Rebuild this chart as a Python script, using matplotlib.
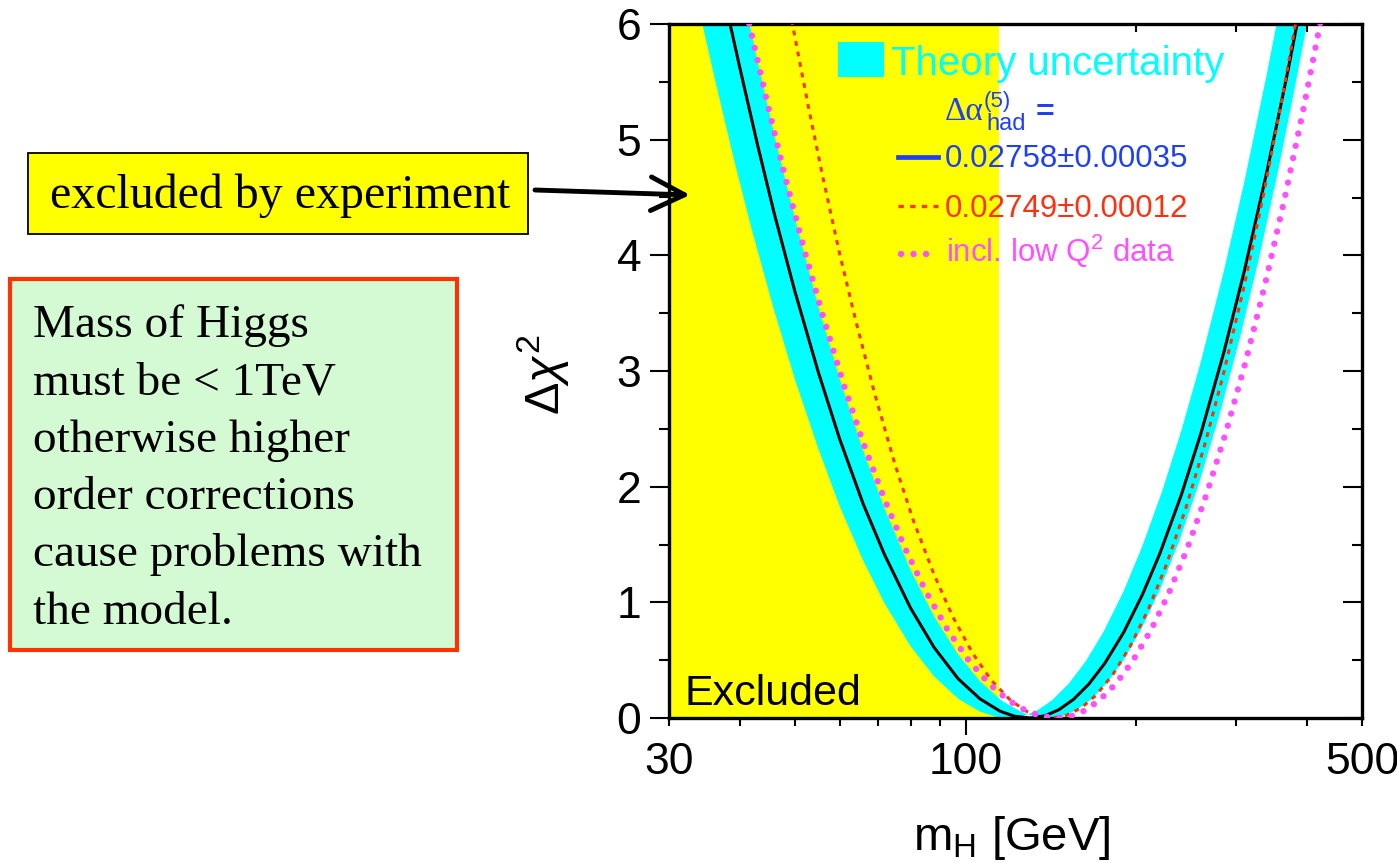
import numpy as np
import matplotlib
matplotlib.use('Agg')
import matplotlib.pyplot as plt
from matplotlib.patches import Rectangle, FancyArrowPatch
from matplotlib.lines import Line2D

plt.rcParams['font.family'] = ['Liberation Sans', 'DejaVu Sans']
plt.rcParams['mathtext.fontset'] = 'custom'
plt.rcParams['mathtext.rm'] = 'Liberation Sans'
plt.rcParams['mathtext.it'] = 'Liberation Sans:italic'

# --- data: m_H [GeV] vs delta chi^2 ---
excluded_limit = 114.4

# central fit (black line)
fit_mh = np.array([37, 38, 40, 43, 46, 50, 55, 60, 66, 72, 80, 88, 97, 106, 115, 122, 130,
                   138, 146, 155, 165, 176, 190, 205, 220, 240, 260, 285, 310, 340, 370, 390])
fit_dchi2 = np.array([6.38, 6.11, 5.62, 4.95, 4.36, 3.69, 2.99, 2.41, 1.85, 1.41, 0.95, 0.61, 0.34, 0.166, 0.059, 0.015, 0.0,
                      0.019, 0.071, 0.161, 0.294, 0.473, 0.74, 1.066, 1.42, 1.926, 2.461, 3.152, 3.862, 4.727, 5.592, 6.167])

# theory uncertainty band, the two edge curves
band_a_mh = np.array([34, 36, 39, 42, 46, 50, 55, 60, 66, 72, 80, 88, 97, 106, 113, 119,
                      126, 134, 142, 152, 163, 175, 190, 205, 222, 240, 260, 285, 310, 340, 360])
band_a_dchi2 = np.array([6.10, 5.56, 4.84, 4.22, 3.52, 2.93, 2.33, 1.83, 1.36, 0.99, 0.62, 0.36, 0.167, 0.055, 0.012, 0.0,
                         0.0145, 0.0675, 0.153, 0.296, 0.493, 0.743, 1.097, 1.487, 1.957, 2.48, 3.083, 3.852, 4.632, 5.575, 6.2])
band_b_mh = np.array([40, 43, 46, 50, 55, 60, 66, 72, 80, 88, 97, 106, 116, 126, 133, 140,
                      148, 157, 167, 178, 190, 205, 220, 238, 258, 280, 305, 330, 355, 380, 400, 410])
band_b_dchi2 = np.array([6.39, 5.67, 5.04, 4.32, 3.56, 2.93, 2.31, 1.81, 1.28, 0.88, 0.55, 0.32, 0.147, 0.047, 0.012, 0.0,
                         0.0155, 0.069, 0.166, 0.309, 0.502, 0.787, 1.106, 1.527, 2.029, 2.61, 3.297, 4.0, 4.712, 5.43, 6.0, 6.29])

# delta alpha_had = 0.02749 (red dashed)
alt_mh = np.array([48, 50, 53, 56, 60, 64, 69, 75, 81, 88, 95, 103, 111, 120, 128, 135, 142,
                   150, 160, 170, 182, 195, 210, 226, 245, 265, 285, 310, 335, 360, 385])
alt_dchi2 = np.array([6.36, 5.89, 5.25, 4.68, 4.01, 3.44, 2.82, 2.20, 1.70, 1.24, 0.873, 0.557, 0.327, 0.153, 0.058, 0.014, 0.0,
                      0.019, 0.088, 0.199, 0.379, 0.618, 0.94, 1.326, 1.826, 2.389, 2.978, 3.739, 4.52, 5.31, 6.1])

# incl. low Q^2 data (magenta dotted)
lowq_mh = np.array([40, 42, 45, 48, 52, 56, 61, 66, 72, 78, 85, 93, 101, 110, 119, 128, 136, 145,
                    153, 162, 172, 184, 197, 212, 228, 246, 266, 288, 312, 338, 365, 395, 420, 430])
lowq_dchi2 = np.array([6.37, 5.90, 5.26, 4.69, 4.04, 3.48, 2.88, 2.38, 1.886, 1.48, 1.099, 0.761, 0.506, 0.296, 0.152, 0.061, 0.017, 0.0,
                       0.014, 0.063, 0.151, 0.295, 0.491, 0.755, 1.073, 1.466, 1.934, 2.475, 3.086, 3.767, 4.485, 5.286, 5.953, 6.22])

x_minor = [30, 40, 50, 60, 70, 80, 90, 200, 300, 400, 500]
x_minor_labels = ['30', '', '', '', '', '', '', '', '', '', '500']

note_lines = ['Mass of Higgs', 'must be < 1TeV', 'otherwise higher',
              'order corrections', 'cause problems with', 'the model.']

# --- figure, laid out in pixels of the 1397x863 picture ---
W, H = 1397, 863
fig = plt.figure(figsize=(W / 100, H / 100), dpi=100)


def fx(x):
    return x / W


def fy(y):
    return 1 - y / H


magenta = '#ff50ff'
blue = '#1f3ff5'

ax = fig.add_axes([fx(669), fy(718), fx(1362) - fx(669), fy(24) - fy(718)])
ax.set_xscale('log')

ax.axvspan(30, excluded_limit, color='#ffff00', lw=0, zorder=0)
ax.fill(np.concatenate([band_a_mh, band_b_mh[::-1]]),
        np.concatenate([band_a_dchi2, band_b_dchi2[::-1]]),
        color='#00ffff', lw=0, zorder=1)
ax.plot(fit_mh, fit_dchi2, color='black', lw=2.2, zorder=2)
ax.plot(alt_mh, alt_dchi2, color='#ff3300', lw=2.2, ls=(0, (1.6, 1.9)), zorder=3)
ax.plot(lowq_mh, lowq_dchi2, color=magenta, lw=4.6, ls=(0, (0.01, 1.95)),
        dash_capstyle='round', zorder=4)

ax.set_xlim(30, 500)
ax.set_ylim(0, 6)

# right and top inward ticks
ax_r = ax.twinx()
ax_r.set_ylim(0, 6)
ax_r.set_yticks(range(7))
ax_r.set_yticks(np.arange(0.5, 6, 0.5), minor=True)
ax_r.tick_params(axis='y', which='major', direction='in', length=14, width=1.5, labelright=False)
ax_r.tick_params(axis='y', which='minor', direction='in', length=7, width=1.5)
ax_t = ax.twiny()
ax_t.set_xscale('log')
ax_t.set_xlim(30, 500)
ax_t.set_xticks([200, 300, 400])
ax_t.set_xticks([], minor=True)
ax_t.tick_params(axis='x', which='major', direction='in', length=6, width=1.5, labeltop=False)
for a in (ax_r, ax_t):
    for s in a.spines.values():
        s.set_visible(False)

ax.set_xticks([100], labels=['100'])
ax.set_xticks(x_minor, labels=x_minor_labels, minor=True)
ax.tick_params(axis='x', which='major', direction='out', length=12, width=1.5, pad=5, labelsize=32)
ax.tick_params(axis='x', which='minor', direction='out', length=5.4, width=1.5, pad=12, labelsize=32)
ax.set_yticks(range(7))
ax.set_yticks(np.arange(0.5, 6, 0.5), minor=True)
ax.tick_params(axis='y', which='major', direction='out', length=14, width=1.5, pad=6, labelsize=32)
ax.tick_params(axis='y', which='minor', direction='out', length=7, width=1.5)
for s in ax.spines.values():
    s.set_linewidth(2.4)

fig.text(fx(1012), fy(850), r'm$_{\mathrm{H}}$ [GeV]', fontsize=34, ha='center', va='baseline')
fig.text(fx(543), fy(375), r'$\Delta\chi^2$', fontsize=35, rotation=90, ha='center', va='center')
fig.text(fx(684), fy(705), 'Excluded', fontsize=31, va='baseline')

# legend, drawn by hand
fig.add_artist(Rectangle((fx(838), fy(77)), fx(884) - fx(838), fy(42) - fy(77),
                         transform=fig.transFigure, fc='#00ffff', ec='none'))
fig.text(fx(891), fy(75), 'Theory uncertainty', fontsize=29, color='#00ffff', va='baseline')
fig.text(fx(945), fy(120), 'Δα', fontsize=24, color=blue, va='baseline', family='Liberation Serif')
fig.text(fx(984), fy(107), '(5)', fontsize=16, color=blue, va='baseline')
fig.text(fx(986), fy(130), 'had', fontsize=17, color=blue, va='baseline')
fig.text(fx(1036), fy(121), '=', fontsize=23, color=blue, va='baseline', weight='bold')
fig.add_artist(Line2D([fx(898), fx(938)], [fy(157), fy(157)], transform=fig.transFigure,
                      color=blue, lw=3.4))
fig.text(fx(945), fy(167), '0.02758±0.00035', fontsize=22.5, color=blue, va='baseline')
fig.add_artist(Line2D([fx(898), fx(938)], [fy(206), fy(206)], transform=fig.transFigure,
                      color='#ff3300', lw=2.4, ls=(0, (1.6, 1.9))))
fig.text(fx(945), fy(217), '0.02749±0.00012', fontsize=22.5, color='#ff3010', va='baseline')
fig.add_artist(Line2D([fx(901), fx(928)], [fy(254), fy(254)], transform=fig.transFigure,
                      color=magenta, lw=4.6, ls=(0, (0.01, 1.95)), dash_capstyle='round'))
fig.text(fx(946), fy(262), r'incl. low Q$^2$ data', fontsize=22.5, color=magenta, va='baseline')

# annotation boxes on the left
fig.add_artist(Rectangle((fx(28), fy(234)), fx(528) - fx(28), fy(153) - fy(234),
                         transform=fig.transFigure, fc='#ffff00', ec='black', lw=1.3))
fig.text(fx(50), fy(208), 'excluded by experiment', fontsize=34.5, family='Liberation Serif', va='baseline')
fig.add_artist(FancyArrowPatch((fx(535), fy(190)), (fx(690), fy(195)), transform=fig.transFigure,
                               arrowstyle='->,head_length=1.1,head_width=0.55', mutation_scale=22,
                               lw=3.5, color='black', shrinkA=0, shrinkB=0))

fig.add_artist(Rectangle((fx(10), fy(650)), fx(457) - fx(10), fy(279) - fy(650),
                         transform=fig.transFigure, fc='#d4fad4', ec='#ff3300', lw=3))
for i, line in enumerate(note_lines):
    fig.text(fx(33), fy(337 + 57.3 * i), line, fontsize=34, family='Liberation Serif', va='baseline')

fig.savefig('out.png', dpi=100)
